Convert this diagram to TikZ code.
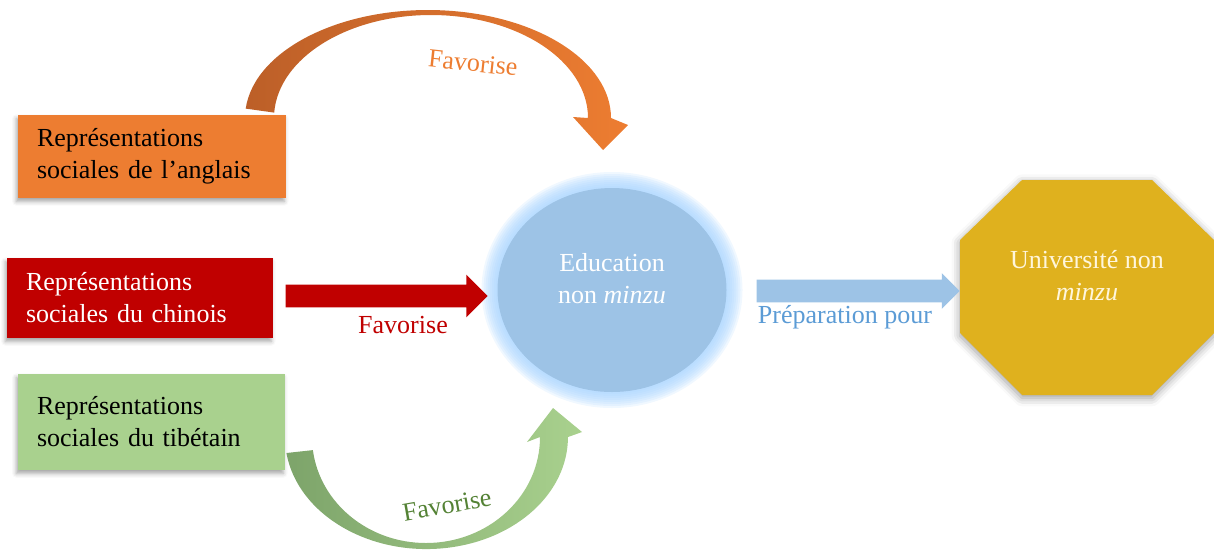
\documentclass[tikz,border=0pt]{standalone}
\usepackage{fontspec}
\setmainfont{Liberation Serif}
\usetikzlibrary{calc,positioning,shapes.geometric,shapes.arrows,shadows.blur}
\def\pxu{0.025cm}

\definecolor{anglaisorange}{HTML}{ED7D31}
\definecolor{anglaisdark}{HTML}{BC5F28}
\definecolor{chinoisred}{HTML}{C00000}
\definecolor{tibgreen}{HTML}{A9D18E}
\definecolor{tibdark}{HTML}{7DA46A}
\definecolor{tibtext}{HTML}{548235}
\definecolor{edublue}{HTML}{9DC3E6}
\definecolor{eduglow}{HTML}{A6D3FF}
\definecolor{prepblue}{HTML}{5B9BD5}
\definecolor{univgold}{HTML}{DFB11E}
\definecolor{univtext}{HTML}{FFF6DC}

\tikzset{
  txt/.style={font=\fontsize{18.5}{22.8}\selectfont},
  repbox/.style={txt, rectangle, align=left, inner xsep={19*\pxu}, inner ysep=0pt,
    blur shadow={shadow xshift=-1.2pt, shadow yshift=-2.5pt, shadow blur radius=3pt, shadow opacity=35}},
  blockarrow/.style={single arrow, inner xsep=0pt, inner ysep={11*\pxu}, single arrow tip angle=90}
}

\begin{document}
\begin{tikzpicture}[x=\pxu, y=-\pxu]
			%%%%% START %%%%%
			\useasboundingbox (0,0) rectangle (1214,549);
			
			% boites de gauche
			\node[repbox, fill=anglaisorange, text width={230*\pxu}, minimum height={83*\pxu}] (ang) at (152,156.5) {Représentations\\sociales de l’anglais};
			\node[repbox, fill=chinoisred, text=white, text width={228*\pxu}, minimum height={80*\pxu}] (chin) at (140,298) {Représentations\\sociales du chinois};
			\node[repbox, fill=tibgreen, text width={229*\pxu}, minimum height={96*\pxu}] (tib) at (151.5,422) {Représentations\\sociales du tibétain};
			
			% education non minzu
			\coordinate (educ) at (612,290);
			\foreach \g in {1,...,8}
				\fill[eduglow, opacity=0.17] (educ) ellipse [x radius={114.5+2*\g}, y radius={102+2*\g}];
			\node[ellipse, fill=edublue, inner sep=0pt, minimum width={229*\pxu}, minimum height={204*\pxu}] (edu) at (educ) {};
			\node[txt, text=white, align=center] (edutxt) at ([yshift={11*\pxu}]edu.center) {Education\\non \textit{minzu}};
			
			% universite non minzu
			\fill[univgold, blur shadow={shadow xshift=0pt, shadow yshift=-2pt, shadow blur radius=6pt, shadow opacity=40}]
				(1022,180) -- (1152,180) -- (1214,240) -- (1214,333) -- (1152,395) -- (1022,395) -- (960,333) -- (960,240) -- cycle;
			\coordinate (univw) at (960,291);
			\node[txt, text=univtext, align=center] (univtxt) at (1087,276) {Université non\\\textit{minzu}};
			
			% fleches droites
			\node[blockarrow, fill=chinoisred, minimum height={202*\pxu}, single arrow head extend={10*\pxu}, anchor=tail] (chinarr) at ([xshift={12*\pxu}, yshift={2*\pxu}]chin.east) {};
			\node[txt, text=chinoisred] (chinfav) at (403,325) {Favorise};
			\node[blockarrow, fill=edublue, minimum height={203*\pxu}, single arrow head extend={6.5*\pxu}, anchor=tip] (preparr) at (univw) {};
			\node[txt, text=prepblue] (prep) at (845,317) {Préparation pour};
			
			% fleche courbe (anglais)
			\shade[left color=anglaisdark, right color=anglaisorange]
				(245.7,108.6) arc[start angle=185, end angle=360, x radius=183, y radius=108]
				-- (628,125) -- (603,150) -- (573,117) -- (588,118)
				arc[start angle=360, end angle=183, x radius=157, y radius=103] -- cycle;
			\node[txt, text=anglaisorange, rotate=-6] (angfav) at (473,63) {Favorise};
			
			% fleche courbe (tibetain)
			\shade[left color=tibdark, right color=tibgreen]
				(286.4,453) arc[start angle=171.8, end angle=0, x radius=141.5, y radius=112]
				-- (582,432) -- (553,408) -- (527,442) -- (540,437)
				arc[start angle=0, end angle=172.9, x radius=114, y radius=106] -- cycle;
			\node[txt, text=tibtext, rotate=10] (tibfav) at (447,505) {Favorise};
			
			%%%%% END %%%%%
\end{tikzpicture}
\end{document}
